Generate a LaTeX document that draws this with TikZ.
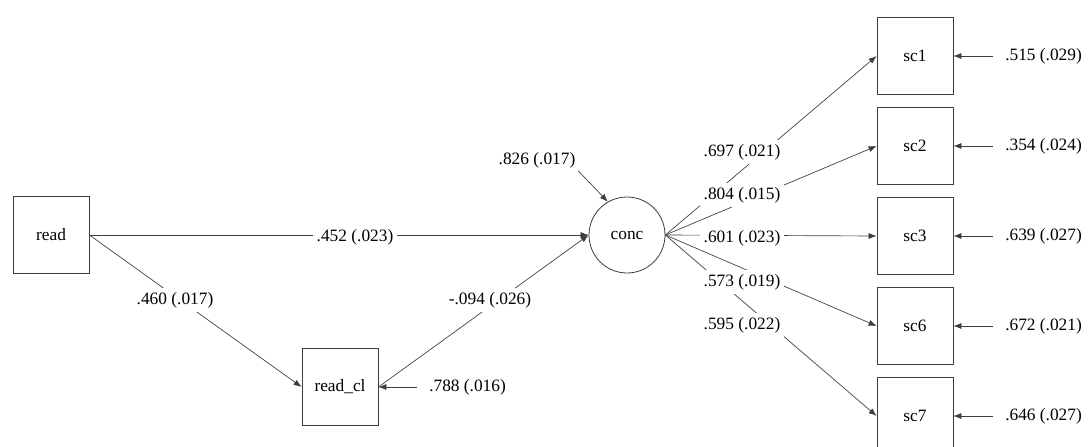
\documentclass[tikz,border=0pt]{standalone}
\usepackage{fontspec}
\setmainfont{Liberation Serif}
\usetikzlibrary{arrows.meta}
\definecolor{pathgray}{RGB}{60,60,60}
\tikzset{
  obs/.style={draw=pathgray,line width=0.6pt,minimum width=57pt,minimum height=58pt,inner sep=0pt,font=\fontsize{13}{15}\selectfont},
  lat/.style={draw=pathgray,line width=0.6pt,circle,minimum size=57pt,inner sep=0pt,font=\fontsize{13}{15}\selectfont},
  link/.style={-{Latex[length=6pt,width=4.5pt]},draw=pathgray,line width=0.5pt},
  coef/.style={fill=white,inner sep=3pt,font=\fontsize{13}{15}\selectfont},
  err/.style={inner sep=2pt,inner xsep=9pt,font=\fontsize{13}{15}\selectfont}
}
\begin{document}
\begin{tikzpicture}[x=0.75pt,y=-0.75pt]
\useasboundingbox (0,0) rectangle (1091,446);
% variables
\node[obs] (read) at (51,235) {read};
\node[obs] (readcl) at (340,387) {read\_cl};
\node[lat] (conc) at (627,235) {conc};
\foreach \n/\y in {sc1/56,sc2/146,sc3/236,sc6/326,sc7/416}
  \node[obs] (\n) at (915,\y) {\n};

% residuals
\node[err,anchor=west] (ereadcl) at (417,387) {.788 (.016)};
\draw[link] (ereadcl.west) -- (readcl.east);
\node[err,inner xsep=2pt] (econc) at (537,160) {.826 (.017)};
\draw[link] (econc.south east) -- (conc.120);
\foreach \n/\y/\v in {sc1/56/.515 (.029),sc2/146/.354 (.024),sc3/236/.639 (.027),sc6/326/.672 (.021),sc7/416/.646 (.027)}{
  \node[err,anchor=west] (e\n) at (993,\y) {\v};
  \draw[link] (e\n.west) -- (\n.east);
}

% paths
\draw[link] (read.east) -- (conc.west);
\draw[link] (read.east) -- (readcl.west);
\draw[link] (readcl.east) -- (conc.west);
\foreach \n in {sc1,sc2,sc3,sc6,sc7}
  \draw[link] (conc.east) -- (\n.west);

% coefficients
\node[coef] (cread) at (355,237) {.452 (.023)};
\node[coef] (creadcl) at (175,300) {.460 (.017)};
\node[coef] (cclconc) at (490,300) {-.094 (.026)};
\foreach \n/\y/\v in {sc1/152/.697 (.021),sc2/195/.804 (.015),sc3/238/.601 (.023),sc6/282/.573 (.019),sc7/325/.595 (.022)}
  \node[coef] (c\n) at (742,\y) {\v};
\end{tikzpicture}
\end{document}
